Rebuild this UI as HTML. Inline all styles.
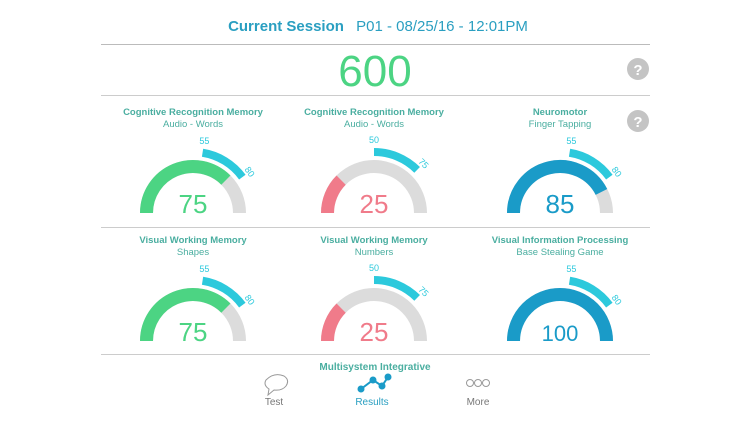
<!DOCTYPE html>
<html><head><meta charset="utf-8"><style>
body{margin:0;background:#fff;width:750px;height:422px;overflow:hidden;font-family:"Liberation Sans",sans-serif}
svg{position:absolute;left:0;top:0}
</style></head><body>
<svg id="s" width="750" height="422" xmlns="http://www.w3.org/2000/svg" font-family="Liberation Sans, sans-serif">
<text x="286" y="31" font-size="15" font-weight="bold" fill="#2a9fc1" text-anchor="middle">Current Session</text>
<text x="442" y="31" font-size="15" fill="#2a9fc1" text-anchor="middle">P01 - 08/25/16 - 12:01PM</text>
<line x1="101" y1="44.5" x2="650" y2="44.5" stroke="#bbb"/>
<text x="375" y="86" font-size="44" fill="#4cd483" text-anchor="middle">600</text>
<line x1="101" y1="95.5" x2="650" y2="95.5" stroke="#ccc"/>
<line x1="101" y1="227.5" x2="650" y2="227.5" stroke="#ccc"/>
<line x1="101" y1="354.5" x2="650" y2="354.5" stroke="#ccc"/>
<circle cx="638" cy="69" r="11" fill="#c4c4c4"/><text x="638" y="75" font-size="15" font-weight="bold" fill="#fff" text-anchor="middle">?</text>
<circle cx="638" cy="121" r="11" fill="#c4c4c4"/><text x="638" y="127" font-size="15" font-weight="bold" fill="#fff" text-anchor="middle">?</text>
<text x="375" y="370" font-size="10" font-weight="bold" fill="#4aaea0" text-anchor="middle">Multisystem Integrative</text>
<path d="M266 380 q8-8 18 -4 q6 4 2 10 q-4 5 -12 4 l-6 5 l1-6 q-6 -4 -3 -9z" fill="none" stroke="#999" stroke-width="1"/>
<text x="274" y="405" font-size="10" fill="#777" text-anchor="middle">Test</text>
<polyline points="361,389 373,380 382,386 388,377" fill="none" stroke="#1a9bc8" stroke-width="2"/>
<circle cx="361" cy="389" r="3.5" fill="#1a9bc8"/><circle cx="373" cy="380" r="3.5" fill="#1a9bc8"/><circle cx="382" cy="386" r="3.5" fill="#1a9bc8"/><circle cx="388" cy="377" r="3.5" fill="#1a9bc8"/>
<text x="372" y="405" font-size="10" fill="#2a9fc1" text-anchor="middle">Results</text>
<circle cx="470" cy="383" r="3.5" fill="none" stroke="#999"/><circle cx="478" cy="383" r="3.5" fill="none" stroke="#999"/><circle cx="486" cy="383" r="3.5" fill="none" stroke="#999"/>
<text x="478" y="405" font-size="10" fill="#777" text-anchor="middle">More</text>
</svg>
<script>
var s=document.getElementById('s'),NS='http://www.w3.org/2000/svg';
function el(t,a,txt){var e=document.createElementNS(NS,t);for(var k in a)e.setAttribute(k,a[k]);if(txt)e.textContent=txt;s.appendChild(e);return e;}
function pt(cx,cy,r,v){var a=Math.PI*(1-v/100);return [cx+r*Math.cos(a),cy-r*Math.sin(a)];}
function arc(cx,cy,r,v1,v2,c,w){var p=pt(cx,cy,r,v1),q=pt(cx,cy,r,v2);el('path',{d:'M'+p[0]+' '+p[1]+' A'+r+' '+r+' 0 0 1 '+q[0]+' '+q[1],fill:'none',stroke:c,'stroke-width':w});}
var G=[[193,213,75,55,80,'#4cd483','Cognitive Recognition Memory','Audio - Words'],
[374,213,25,50,75,'#f07b8a','Cognitive Recognition Memory','Audio - Words'],
[560,213,85,55,80,'#1a9bc8','Neuromotor','Finger Tapping'],
[193,341,75,55,80,'#4cd483','Visual Working Memory','Shapes'],
[374,341,25,50,75,'#f07b8a','Visual Working Memory','Numbers'],
[560,341,100,55,80,'#1a9bc8','Visual Information Processing','Base Stealing Game']];
G.forEach(function(g){var cx=g[0],cy=g[1];
el('text',{x:cx,y:cy-98,'font-size':'9.5','font-weight':'bold',fill:'#4aaea0','text-anchor':'middle'},g[6]);
el('text',{x:cx,y:cy-86,'font-size':'9.5',fill:'#4aaea0','text-anchor':'middle'},g[7]);
arc(cx,cy,46.5,0,100,'#dcdcdc',13);
arc(cx,cy,46.5,0,g[2],g[5],13);
arc(cx,cy,61,g[3],g[4],'#2cc9dc',8);
var p=pt(cx,cy,73,g[3]);el('text',{x:p[0],y:p[1]+3,'font-size':'9',fill:'#2cc9dc','text-anchor':'middle'},String(g[3]));
var q=pt(cx,cy,70,g[4]);var rot=-(180-g[4]*1.8)+90;
el('text',{x:q[0],y:q[1]+3,'font-size':'9',fill:'#2cc9dc','text-anchor':'middle',transform:'rotate('+rot+' '+q[0]+' '+q[1]+')'},String(g[4]));
el('text',{x:cx,y:cy,'font-size':g[2]==100?'22':'26',fill:g[5],'text-anchor':'middle'},String(g[2]));
});
</script>
</body></html>
